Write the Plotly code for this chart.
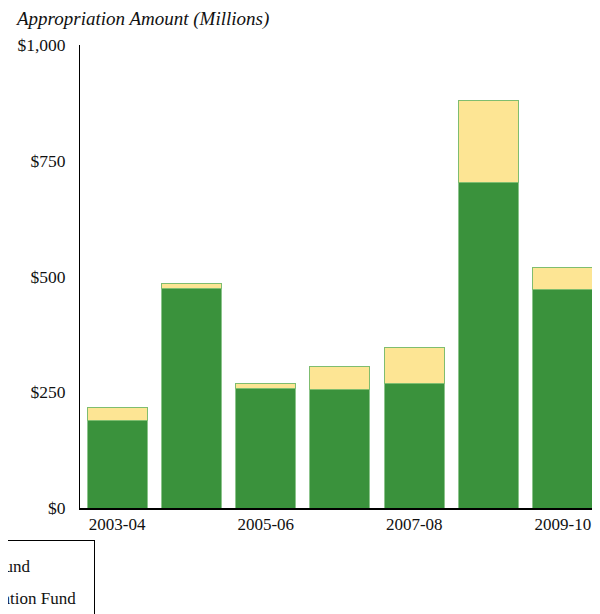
import plotly.graph_objects as go

years = ["2003-04", "2004-05", "2005-06", "2006-07", "2007-08", "2008-09", "2009-10"]
general_fund = [190, 475, 259, 255, 268, 702, 471]
other_fund = [28, 9, 9, 50, 78, 179, 49]
tick_years = ["2003-04", "2005-06", "2007-08", "2009-10"]
y_ticks = [0, 250, 500, 750, 1000]
y_labels = ["$0", "$250", "$500", "$750", "$1,000"]
series_names = ["General Fund", "Transportation Fund"]

FONT = "Liberation Serif"

fig = go.Figure()
fig.add_trace(go.Bar(
    x=years, y=general_fund, name=series_names[0], legendgroup="a",
    marker=dict(color="#3a923c", line=dict(color="#8cc48c", width=1)),
))
fig.add_trace(go.Bar(
    x=years, y=other_fund, name=series_names[1] + "&nbsp;&nbsp;&nbsp;", legendgroup="b",
    marker=dict(color="#fde594", line=dict(color="#7fbd6f", width=1)),
))

# page body has an 8px margin, so positions are offset by 8px
fig.update_layout(
    barmode="stack",
    bargap=0.19,
    width=600, height=614,
    paper_bgcolor="white", plot_bgcolor="white",
    margin=dict(l=72, r=8, t=37, b=114, autoexpand=False),
    font=dict(family=FONT, size=17, color="#111111"),
    showlegend=True,
    legend=dict(
        x=0.0288, xanchor="right", y=-0.069, yanchor="top",
        bordercolor="black", borderwidth=1,
        traceorder="grouped", tracegroupgap=7,
        font=dict(family=FONT, size=17),
        title=dict(text="&nbsp;", font=dict(size=5)),
    ),
    xaxis=dict(
        tickmode="array", tickvals=tick_years, ticktext=tick_years,
        showline=True, linecolor="black", linewidth=1.5,
        ticks="", showgrid=False, tickfont=dict(size=17),
    ),
    yaxis=dict(
        range=[0, 1000], tickvals=y_ticks, ticktext=y_labels,
        showline=True, linecolor="black", linewidth=1,
        ticks="", showgrid=False, zeroline=False,
        ticklabelstandoff=10, tickfont=dict(size=17.5),
    ),
    annotations=[dict(
        text="<i>Appropriation Amount (Millions)</i>",
        xref="paper", yref="paper", x=-0.129, y=1.028,
        xanchor="left", yanchor="bottom", showarrow=False,
        font=dict(family=FONT, size=19),
    )],
)

fig.write_html("out.html")
